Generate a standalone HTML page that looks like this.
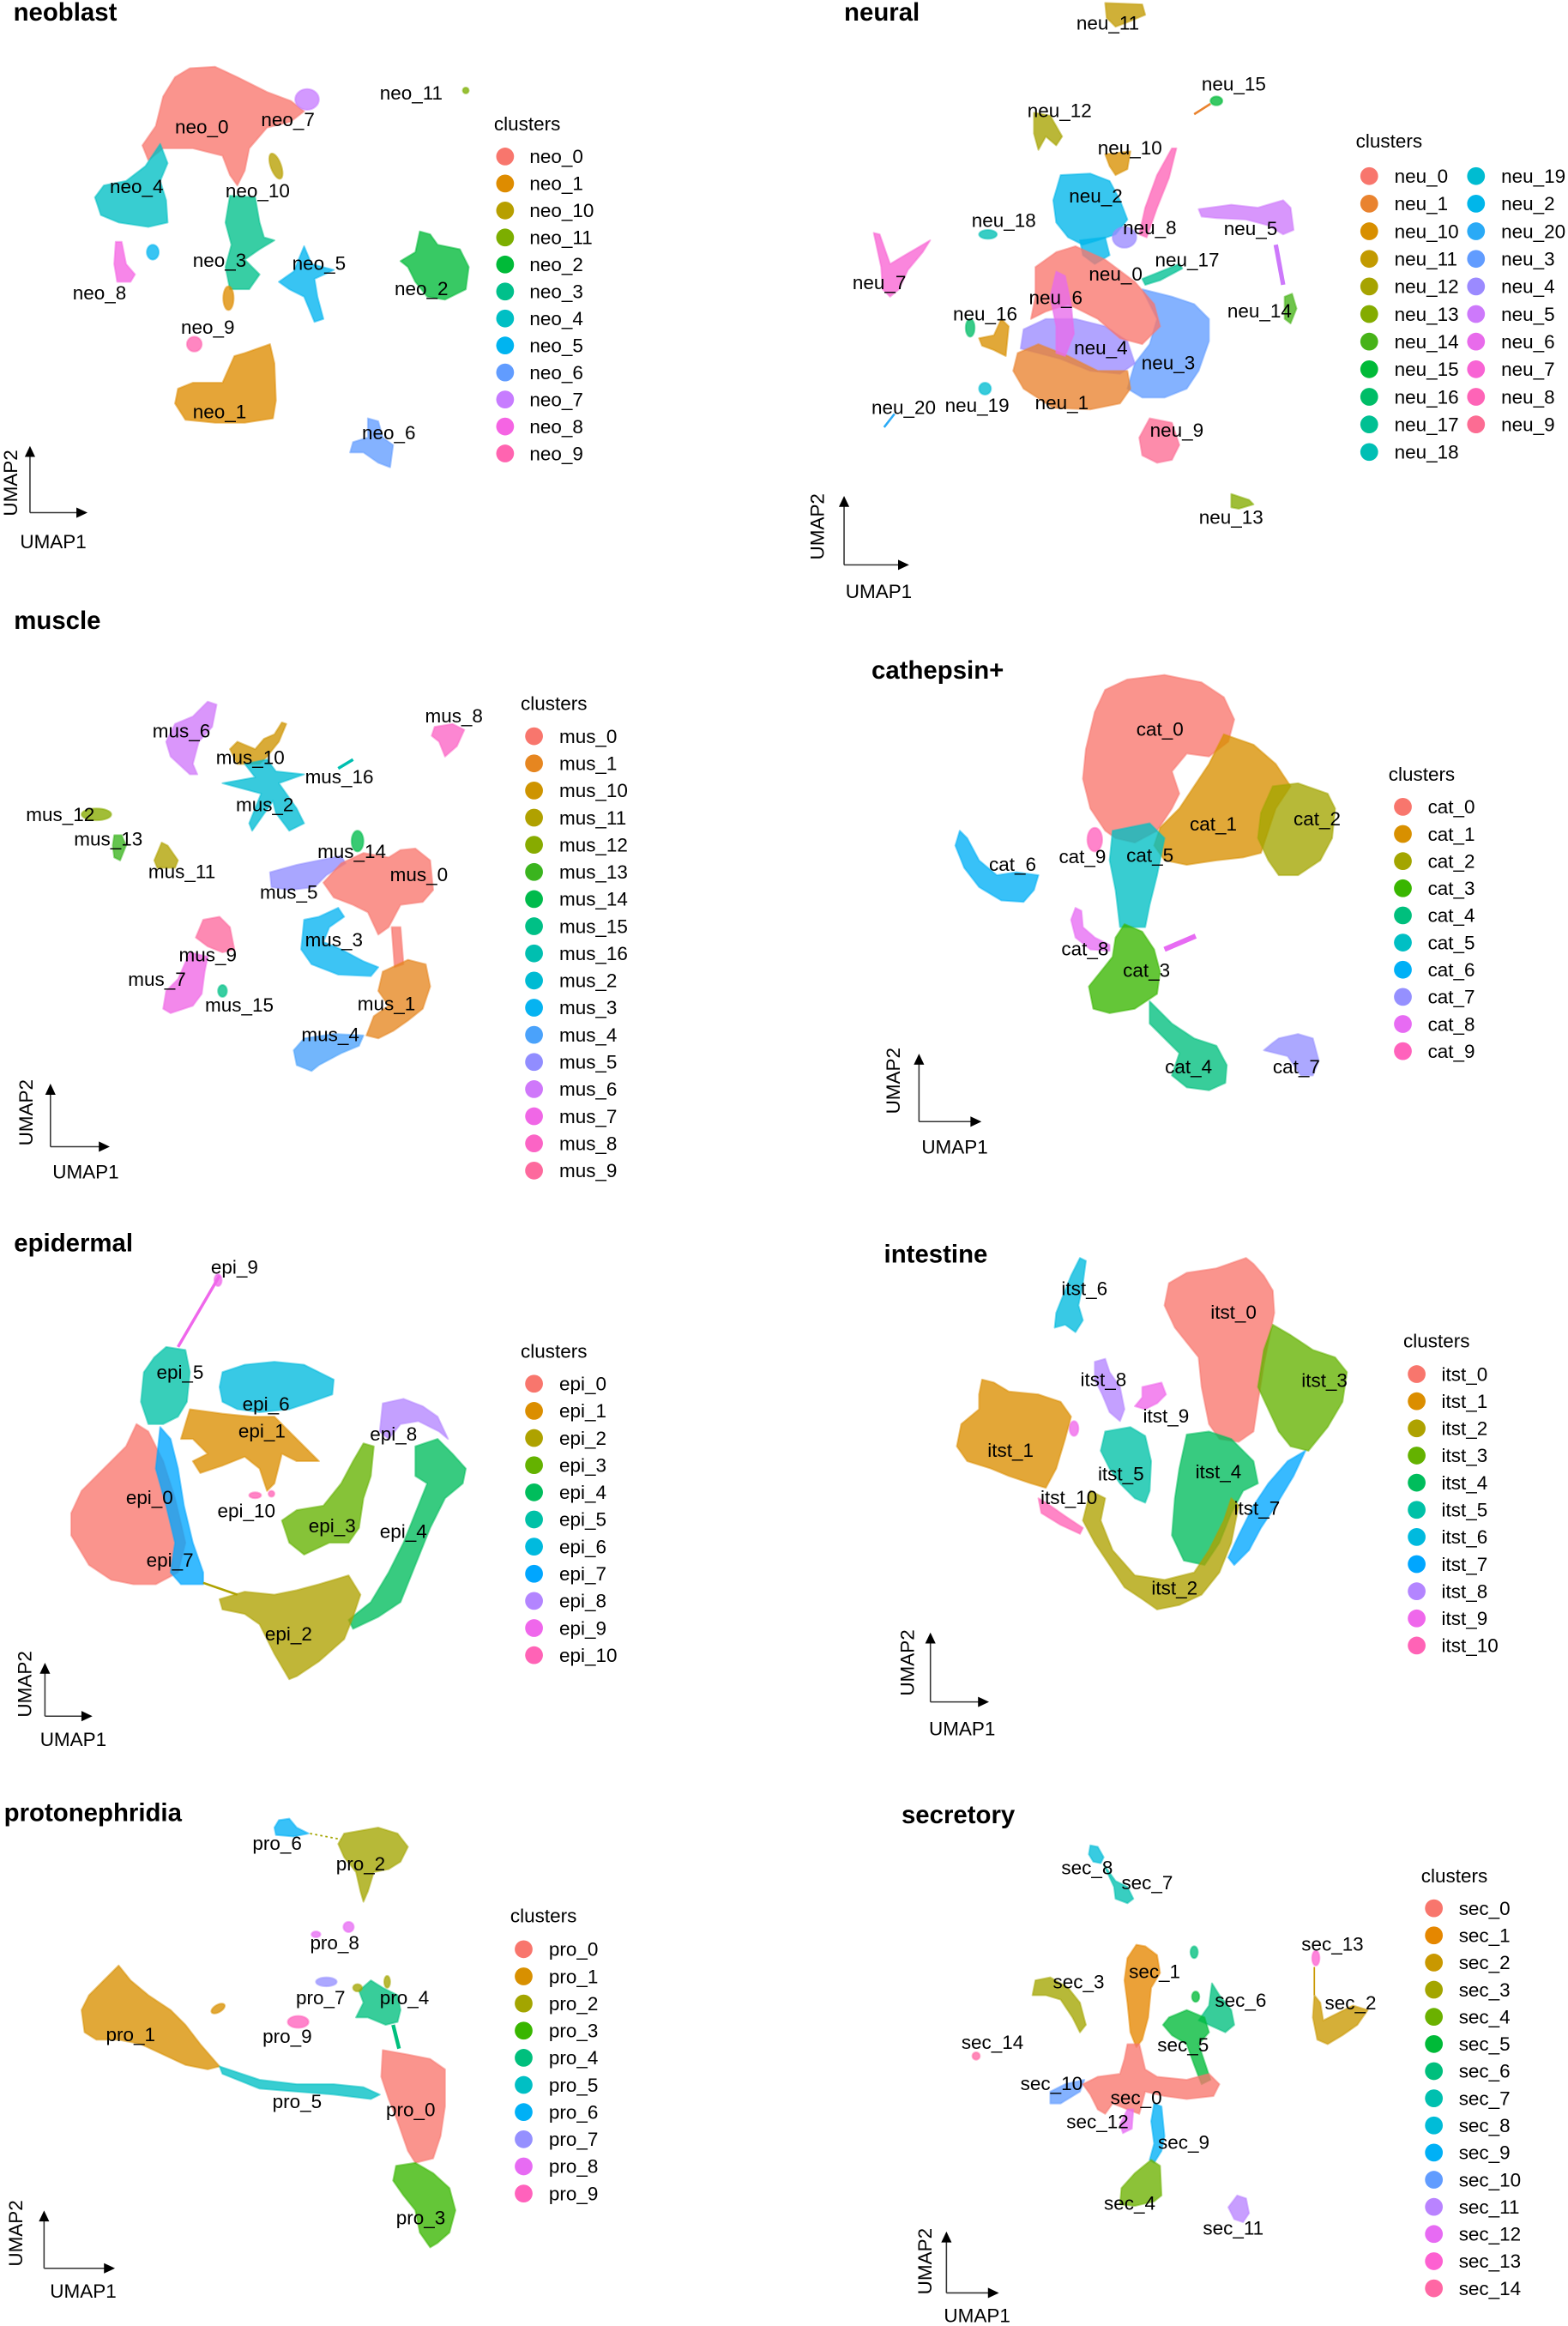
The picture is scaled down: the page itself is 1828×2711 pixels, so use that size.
<!DOCTYPE html>
<html><head><meta charset="utf-8">
<style>
html,body{margin:0;padding:0;background:#fff;}
svg{display:block;}
text{font-family:"Liberation Sans",Arial,sans-serif;fill:#000;}
.t{font-size:17px;font-weight:bold;}
.l{font-size:13px;}
.lg{font-size:13px;}
.ax{font-size:13px;}
.b polygon,.b ellipse,.b circle{fill-opacity:.78;stroke-width:1.2;stroke-opacity:.5;stroke-linejoin:round;}
.ar line{stroke:#333;stroke-width:.9;}
.ar polygon{fill:#000;}
</style></head>
<body>
<svg width="1828" height="2711" viewBox="0 0 1057 1568" preserveAspectRatio="none" xmlns="http://www.w3.org/2000/svg">
<rect width="1057" height="1568" fill="#fff"/>

<!-- ================= NEOBLAST ================= -->
<text class="t" x="9" y="14">neoblast</text>
<g class="b">
<polygon fill="#F8766D" stroke="#F8766D" points="128,46 145,45 160,52 180,62 196,68 205,75 196,82 180,86 168,100 165,115 160,125 155,118 150,105 130,100 110,100 100,108 96,98 105,85 110,65 118,52"/>
<ellipse fill="#C77CFF" stroke="#C77CFF" cx="207" cy="67" rx="8" ry="7"/>
<circle fill="#7CAE00" stroke="#7CAE00" cx="314" cy="61" r="2"/>
<ellipse fill="#B79F00" stroke="#B79F00" cx="186" cy="112" rx="3.5" ry="9" transform="rotate(-20 186 112)"/>
<polygon fill="#00BFC4" stroke="#00BFC4" points="108,97 113,110 108,122 112,135 113,150 100,153 80,150 68,145 64,133 70,125 85,122 98,112"/>
<polygon fill="#F564E3" stroke="#F564E3" points="78,163 82,163 85,178 91,185 88,190 79,190 77,178"/>
<ellipse fill="#00B4F0" stroke="#00B4F0" cx="103" cy="170" rx="4" ry="5"/>
<polygon fill="#00C08B" stroke="#00C08B" points="155,132 172,133 175,150 178,160 185,162 175,168 165,175 175,185 168,195 155,195 152,180 156,165 152,150"/>
<ellipse fill="#DE8C00" stroke="#DE8C00" cx="154" cy="201" rx="3.5" ry="8"/>
<polygon fill="#00B4F0" stroke="#00B4F0" points="205,166 210,178 225,182 212,188 214,200 218,215 212,217 205,200 195,195 188,190 198,183"/>
<polygon fill="#00BA38" stroke="#00BA38" points="283,156 290,158 295,165 310,168 316,180 314,195 300,202 288,200 280,190 275,180 270,176 280,170"/>
<ellipse fill="#FF64B0" stroke="#FF64B0" cx="131" cy="232" rx="5" ry="5"/>
<polygon fill="#DE8C00" stroke="#DE8C00" points="165,238 182,232 185,245 186,270 184,282 165,285 145,285 125,283 118,272 120,262 130,258 150,258 158,240"/>
<polygon fill="#619CFF" stroke="#619CFF" points="248,282 255,284 258,295 265,300 263,315 255,312 245,305 236,305 238,298 248,295"/>
</g>
<g class="l">
<text x="118" y="90">neo_0</text><text x="176" y="85">neo_7</text><text x="256" y="67">neo_11</text>
<text x="152" y="133">neo_10</text><text x="74" y="130">neo_4</text><text x="130" y="180">neo_3</text>
<text x="197" y="182">neo_5</text><text x="266" y="199">neo_2</text><text x="49" y="202">neo_8</text>
<text x="122" y="225">neo_9</text><text x="130" y="282">neo_1</text><text x="244" y="296">neo_6</text>
</g>
<text class="lg" x="333" y="88">clusters</text>
<g class="lg">
<circle cx="340.5" cy="105.5" r="6" fill="#F8766D"/><text x="357" y="110">neo_0</text>
<circle cx="340.5" cy="123.7" r="6" fill="#DE8C00"/><text x="357" y="128.2">neo_1</text>
<circle cx="340.5" cy="141.9" r="6" fill="#B79F00"/><text x="357" y="146.4">neo_10</text>
<circle cx="340.5" cy="160.1" r="6" fill="#7CAE00"/><text x="357" y="164.6">neo_11</text>
<circle cx="340.5" cy="178.3" r="6" fill="#00BA38"/><text x="357" y="182.8">neo_2</text>
<circle cx="340.5" cy="196.5" r="6" fill="#00C08B"/><text x="357" y="201">neo_3</text>
<circle cx="340.5" cy="214.7" r="6" fill="#00BFC4"/><text x="357" y="219.2">neo_4</text>
<circle cx="340.5" cy="232.9" r="6" fill="#00B4F0"/><text x="357" y="237.4">neo_5</text>
<circle cx="340.5" cy="251.1" r="6" fill="#619CFF"/><text x="357" y="255.6">neo_6</text>
<circle cx="340.5" cy="269.3" r="6" fill="#C77CFF"/><text x="357" y="273.8">neo_7</text>
<circle cx="340.5" cy="287.5" r="6" fill="#F564E3"/><text x="357" y="292">neo_8</text>
<circle cx="340.5" cy="305.7" r="6" fill="#FF64B0"/><text x="357" y="310.2">neo_9</text>
</g>
<g class="ar">
<line x1="20.2" y1="345.6" x2="20.2" y2="306"/><polygon points="16.7,308 20.2,300.6 23.7,308"/>
<line x1="20.2" y1="345.6" x2="53" y2="345.6"/><polygon points="51.5,342.1 59,345.6 51.5,349.1"/>
</g>
<text class="ax" text-anchor="middle" transform="translate(11.5 325.6) rotate(-90)">UMAP2</text>
<text class="ax" x="13.5" y="369.5">UMAP1</text>

<!-- ================= NEURAL ================= -->
<text class="t" x="569" y="14">neural</text>
<g class="b">
<polygon fill="#C29A00" stroke="#C29A00" points="745,2 770,3 772,10 760,15 752,18 746,12"/>
<line x1="805" y1="77" x2="816" y2="70" stroke="#E9832F" stroke-width="1.5"/>
<ellipse fill="#00BA38" stroke="#00BA38" cx="820" cy="68" rx="4" ry="3"/>
<polygon fill="#A6A300" stroke="#A6A300" points="697,76 708,78 716,92 712,98 705,92 700,101 697,90"/>
<polygon fill="#D88F00" stroke="#D88F00" points="745,104 762,102 760,114 752,118 748,112"/>
<polygon fill="#00B6EA" stroke="#00B6EA" points="715,118 735,117 748,122 755,135 760,148 752,158 740,162 730,165 720,160 712,150 710,135"/>
<polygon fill="#00B6EA" stroke="#00B6EA" fill-opacity=".45" points="728,162 745,160 748,172 738,178 730,172"/>
<polygon fill="#FE64B7" stroke="#FE64B7" points="793,100 788,120 780,140 773,160 768,158 772,140 780,118 790,100"/>
<ellipse fill="#9B8AFF" stroke="#9B8AFF" cx="758" cy="160" rx="8" ry="7"/>
<ellipse fill="#00BFB4" stroke="#00BFB4" cx="666" cy="158" rx="6" ry="3"/>
<polygon fill="#F864D4" stroke="#F864D4" points="589,157 593,158 600,178 610,172 622,165 627,162 622,170 612,182 606,195 600,200 595,195 594,180"/>
<polygon fill="#CD79FB" stroke="#CD79FB" points="808,141 830,138 848,140 865,135 870,140 872,155 865,158 855,152 840,148 820,147 810,146"/>
<line x1="860" y1="165" x2="865" y2="192" stroke="#CD79FB" stroke-width="3"/>
<polygon fill="#47B318" stroke="#47B318" points="866,200 871,198 874,208 870,218 866,215"/>
<polygon fill="#00C093" stroke="#00C093" points="770,188 780,184 795,178 797,181 782,189 772,192"/>
<polygon fill="#619CFF" stroke="#619CFF" points="770,195 790,200 805,205 815,215 815,230 808,250 800,262 785,268 770,268 760,262 765,245 775,232 780,215"/>
<polygon fill="#9B8AFF" stroke="#9B8AFF" points="690,222 705,215 725,215 745,220 760,230 765,245 755,252 735,250 715,242 700,238 688,235"/>
<polygon fill="#E9832F" stroke="#E9832F" points="686,238 700,232 720,240 740,250 760,250 762,262 755,272 735,276 710,275 690,262 683,250"/>
<polygon fill="#F8766D" stroke="#F8766D" points="698,180 712,170 725,166 745,175 765,190 778,205 782,220 770,232 755,228 740,215 720,205 705,210 695,215 698,200"/>
<polygon fill="#E86BEB" stroke="#E86BEB" points="712,183 718,186 722,205 724,225 718,240 712,238 712,220 708,200"/>
<ellipse fill="#00BD67" stroke="#00BD67" cx="654" cy="221" rx="3" ry="6"/>
<polygon fill="#D88F00" stroke="#D88F00" points="660,228 670,226 675,215 680,220 678,240 670,236 662,233"/>
<ellipse fill="#00BCD1" stroke="#00BCD1" cx="664" cy="262" rx="4" ry="4"/>
<line x1="596" y1="288" x2="603" y2="279" stroke="#2AAAF6" stroke-width="1.5"/>
<polygon fill="#FC6C93" stroke="#FC6C93" points="775,282 790,285 795,300 790,310 780,312 770,307 768,295"/>
<polygon fill="#84AC00" stroke="#84AC00" points="830,333 842,337 845,340 835,343 830,342"/>
</g>
<g class="l">
<text x="725.6" y="20">neu_11</text><text x="810" y="61">neu_15</text><text x="692.6" y="79">neu_12</text>
<text x="740" y="104">neu_10</text><text x="720.6" y="136.5">neu_2</text><text x="655" y="153">neu_18</text>
<text x="757" y="158">neu_8</text><text x="825" y="158.5">neu_5</text><text x="574.7" y="195">neu_7</text>
<text x="778.6" y="179.5">neu_17</text><text x="734" y="189">neu_0</text><text x="693.6" y="205">neu_6</text>
<text x="827.4" y="214">neu_14</text><text x="642.4" y="216">neu_16</text><text x="724" y="239">neu_4</text>
<text x="769.5" y="249">neu_3</text><text x="587.5" y="279">neu_20</text><text x="637" y="277.5">neu_19</text>
<text x="697.7" y="276">neu_1</text><text x="775.2" y="294.5">neu_9</text><text x="808.2" y="353">neu_13</text>
</g>
<text class="lg" x="914" y="99.5">clusters</text>
<g class="lg">
<circle cx="923" cy="118.7" r="6" fill="#F8766D"/><text x="940" y="123.2">neu_0</text>
<circle cx="923" cy="137.3" r="6" fill="#E9832F"/><text x="940" y="141.8">neu_1</text>
<circle cx="923" cy="155.9" r="6" fill="#D88F00"/><text x="940" y="160.4">neu_10</text>
<circle cx="923" cy="174.5" r="6" fill="#C29A00"/><text x="940" y="179">neu_11</text>
<circle cx="923" cy="193.1" r="6" fill="#A6A300"/><text x="940" y="197.6">neu_12</text>
<circle cx="923" cy="211.7" r="6" fill="#84AC00"/><text x="940" y="216.2">neu_13</text>
<circle cx="923" cy="230.3" r="6" fill="#47B318"/><text x="940" y="234.8">neu_14</text>
<circle cx="923" cy="248.9" r="6" fill="#00BA38"/><text x="940" y="253.4">neu_15</text>
<circle cx="923" cy="267.5" r="6" fill="#00BD67"/><text x="940" y="272">neu_16</text>
<circle cx="923" cy="286.1" r="6" fill="#00C093"/><text x="940" y="290.6">neu_17</text>
<circle cx="923" cy="304.7" r="6" fill="#00BFB4"/><text x="940" y="309.2">neu_18</text>
<circle cx="995" cy="118.7" r="6" fill="#00BCD1"/><text x="1012" y="123.2">neu_19</text>
<circle cx="995" cy="137.3" r="6" fill="#00B6EA"/><text x="1012" y="141.8">neu_2</text>
<circle cx="995" cy="155.9" r="6" fill="#2AAAF6"/><text x="1012" y="160.4">neu_20</text>
<circle cx="995" cy="174.5" r="6" fill="#619CFF"/><text x="1012" y="179">neu_3</text>
<circle cx="995" cy="193.1" r="6" fill="#9B8AFF"/><text x="1012" y="197.6">neu_4</text>
<circle cx="995" cy="211.7" r="6" fill="#CD79FB"/><text x="1012" y="216.2">neu_5</text>
<circle cx="995" cy="230.3" r="6" fill="#E86BEB"/><text x="1012" y="234.8">neu_6</text>
<circle cx="995" cy="248.9" r="6" fill="#F864D4"/><text x="1012" y="253.4">neu_7</text>
<circle cx="995" cy="267.5" r="6" fill="#FE64B7"/><text x="1012" y="272">neu_8</text>
<circle cx="995" cy="286.1" r="6" fill="#FC6C93"/><text x="1012" y="290.6">neu_9</text>
</g>
<g class="ar">
<line x1="569" y1="380.8" x2="569" y2="340"/><polygon points="565.5,341.7 569,334.3 572.5,341.7"/>
<line x1="569" y1="380.8" x2="607" y2="380.8"/><polygon points="605.4,377.3 612.8,380.8 605.4,384.3"/>
</g>
<text class="ax" text-anchor="middle" transform="translate(555.5 355) rotate(-90)">UMAP2</text>
<text class="ax" x="570" y="403">UMAP1</text>

<!-- ================= MUSCLE ================= -->
<text class="t" x="9.4" y="424">muscle</text>
<g class="b">
<polygon fill="#CF78FA" stroke="#CF78FA" points="140,473 146,475 143,490 134,500 130,515 133,522 128,522 115,510 112,500 118,488 130,483"/>
<polygon fill="#CE9400" stroke="#CE9400" points="190,487 193,488 188,500 180,510 175,515 160,515 155,505 160,500 172,505 178,498 185,495"/>
<polygon fill="#00BBD3" stroke="#00BBD3" points="180,512 186,520 205,522 188,528 200,545 205,555 195,560 186,548 184,540 170,560 168,555 176,535 150,528 172,524 165,515"/>
<line x1="228" y1="518" x2="238" y2="512" stroke="#00BFB0" stroke-width="2"/>
<polygon fill="#FB64C5" stroke="#FB64C5" points="293,490 305,488 313,492 308,503 300,510 296,500 291,496"/>
<ellipse fill="#87AB00" stroke="#87AB00" cx="65" cy="549" rx="10" ry="4"/>
<polygon fill="#3AB41E" stroke="#3AB41E" points="77,563 82,563 85,570 81,580 77,578 76,570"/>
<polygon fill="#B0A100" stroke="#B0A100" points="109,568 113,570 120,580 118,585 106,585 104,580"/>
<ellipse fill="#00BB4C" stroke="#00BB4C" cx="241" cy="567" rx="4" ry="7"/>
<polygon fill="#918DFF" stroke="#918DFF" points="182,588 200,583 215,580 230,577 233,582 220,590 212,598 195,600 183,598"/>
<polygon fill="#F8766D" stroke="#F8766D" points="230,582 245,575 262,578 270,573 280,572 290,580 292,600 285,608 270,610 262,625 255,630 248,615 238,610 225,605 218,595"/>
<polygon fill="#F8766D" stroke="#F8766D" fill-opacity=".45" points="264,625 270,625 272,650 266,652"/>
<polygon fill="#06B3F1" stroke="#06B3F1" points="205,620 215,618 228,612 232,618 222,625 218,635 230,640 245,648 255,652 250,658 228,657 210,650 203,640"/>
<polygon fill="#E68620" stroke="#E68620" points="258,655 275,647 287,650 290,665 285,680 275,688 265,695 255,700 247,698 252,685 262,678 255,668"/>
<polygon fill="#4AA2FB" stroke="#4AA2FB" points="205,700 225,697 245,698 242,705 230,710 215,718 210,722 200,718 198,708"/>
<polygon fill="#FD699D" stroke="#FD699D" points="137,620 148,618 155,625 158,640 150,642 140,638 132,632"/>
<polygon fill="#F067E6" stroke="#F067E6" points="128,642 140,645 138,655 136,670 130,678 115,683 110,680 112,668 120,660"/>
<ellipse fill="#00C086" stroke="#00C086" cx="150" cy="668" rx="3" ry="4"/>
</g>
<g class="l">
<text x="102.8" y="497">mus_6</text><text x="145.6" y="515">mus_10</text><text x="205.6" y="528">mus_16</text>
<text x="159" y="547">mus_2</text><text x="286.5" y="487">mus_8</text><text x="17.5" y="553.5">mus_12</text>
<text x="49.9" y="570">mus_13</text><text x="100" y="592">mus_11</text><text x="214" y="578.5">mus_14</text>
<text x="262.9" y="594">mus_0</text><text x="175.2" y="606">mus_5</text><text x="205.6" y="638">mus_3</text>
<text x="120.6" y="648">mus_9</text><text x="86.3" y="664.5">mus_7</text><text x="138.2" y="682">mus_15</text>
<text x="241" y="681">mus_1</text><text x="203.2" y="702">mus_4</text>
</g>
<text class="lg" x="351" y="478.5">clusters</text>
<g class="lg">
<circle cx="360" cy="496.3" r="6" fill="#F8766D"/><text x="377" y="500.8">mus_0</text>
<circle cx="360" cy="514.6" r="6" fill="#E68620"/><text x="377" y="519.1">mus_1</text>
<circle cx="360" cy="532.9" r="6" fill="#CE9400"/><text x="377" y="537.4">mus_10</text>
<circle cx="360" cy="551.2" r="6" fill="#B0A100"/><text x="377" y="555.7">mus_11</text>
<circle cx="360" cy="569.5" r="6" fill="#87AB00"/><text x="377" y="574">mus_12</text>
<circle cx="360" cy="587.8" r="6" fill="#3AB41E"/><text x="377" y="592.3">mus_13</text>
<circle cx="360" cy="606.1" r="6" fill="#00BB4C"/><text x="377" y="610.6">mus_14</text>
<circle cx="360" cy="624.4" r="6" fill="#00C086"/><text x="377" y="628.9">mus_15</text>
<circle cx="360" cy="642.7" r="6" fill="#00BFB0"/><text x="377" y="647.2">mus_16</text>
<circle cx="360" cy="661" r="6" fill="#00BBD3"/><text x="377" y="665.5">mus_2</text>
<circle cx="360" cy="679.3" r="6" fill="#06B3F1"/><text x="377" y="683.8">mus_3</text>
<circle cx="360" cy="697.6" r="6" fill="#4AA2FB"/><text x="377" y="702.1">mus_4</text>
<circle cx="360" cy="715.9" r="6" fill="#918DFF"/><text x="377" y="720.4">mus_5</text>
<circle cx="360" cy="734.2" r="6" fill="#CF78FA"/><text x="377" y="738.7">mus_6</text>
<circle cx="360" cy="752.5" r="6" fill="#F067E6"/><text x="377" y="757">mus_7</text>
<circle cx="360" cy="770.8" r="6" fill="#FB64C5"/><text x="377" y="775.3">mus_8</text>
<circle cx="360" cy="789.1" r="6" fill="#FD699D"/><text x="377" y="793.6">mus_9</text>
</g>
<g class="ar">
<line x1="34" y1="773" x2="34" y2="736"/><polygon points="30.5,738 34,730.5 37.5,738"/>
<line x1="34" y1="773" x2="68" y2="773"/><polygon points="66.6,769.5 74,773 66.6,776.5"/>
</g>
<text class="ax" text-anchor="middle" transform="translate(22 750) rotate(-90)">UMAP2</text>
<text class="ax" x="35.4" y="794.4">UMAP1</text>

<!-- ================= CATHEPSIN ================= -->
<text class="t" x="587.5" y="457.5">cathepsin+</text>
<g class="b">
<polygon fill="#F8766D" stroke="#F8766D" points="760,458 785,455 810,460 825,470 832,485 828,500 815,510 800,508 790,520 795,535 790,545 780,560 765,568 752,565 745,560 735,545 730,525 732,505 738,480 745,465"/>
<polygon fill="#D89000" stroke="#D89000" points="825,495 845,502 860,515 870,530 860,545 855,560 850,575 838,578 820,580 800,583 785,580 778,570 782,558 795,545 805,530 815,515 820,505"/>
<polygon fill="#A3A500" stroke="#A3A500" points="858,530 875,528 895,535 900,545 898,565 890,580 875,590 862,590 855,580 848,565 850,548"/>
<polygon fill="#00BFC4" stroke="#00BFC4" points="750,560 775,555 785,565 780,590 775,610 772,625 755,625 752,600 748,580"/>
<ellipse fill="#FF62BC" stroke="#FF62BC" cx="738" cy="566" rx="5" ry="8"/>
<polygon fill="#00B0F6" stroke="#00B0F6" points="647,560 652,565 660,580 672,590 685,588 700,590 697,600 690,608 675,607 660,598 650,585 644,570"/>
<polygon fill="#E76BF3" stroke="#E76BF3" points="725,612 729,614 730,625 738,632 748,637 748,641 735,640 725,632 722,620"/>
<line x1="785" y1="640" x2="806" y2="631" stroke="#E76BF3" stroke-width="3.5"/>
<polygon fill="#39B600" stroke="#39B600" points="758,623 770,628 778,640 782,655 780,670 765,680 748,683 737,680 734,665 742,655 750,645 752,632"/>
<polygon fill="#00BF7D" stroke="#00BF7D" points="775,675 790,690 805,700 820,705 827,718 826,730 815,735 800,733 790,725 795,710 785,700 775,690"/>
<polygon fill="#9590FF" stroke="#9590FF" points="862,700 875,697 885,700 889,715 885,725 877,725 868,712 852,708 858,703"/>
</g>
<g class="l">
<text x="766" y="496">cat_0</text><text x="802" y="560">cat_1</text><text x="872" y="556.5">cat_2</text>
<text x="759.3" y="581">cat_5</text><text x="713.8" y="582">cat_9</text><text x="666.7" y="587">cat_6</text>
<text x="715.5" y="644">cat_8</text><text x="757" y="658.5">cat_3</text><text x="785.3" y="723.5">cat_4</text>
<text x="858" y="723.5">cat_7</text>
</g>
<text class="lg" x="936" y="526.2">clusters</text>
<g class="lg">
<circle cx="945.7" cy="543.9" r="6" fill="#F8766D"/><text x="962.5" y="548.4">cat_0</text>
<circle cx="945.7" cy="562.2" r="6" fill="#D89000"/><text x="962.5" y="566.7">cat_1</text>
<circle cx="945.7" cy="580.5" r="6" fill="#A3A500"/><text x="962.5" y="585">cat_2</text>
<circle cx="945.7" cy="598.8" r="6" fill="#39B600"/><text x="962.5" y="603.3">cat_3</text>
<circle cx="945.7" cy="617.1" r="6" fill="#00BF7D"/><text x="962.5" y="621.6">cat_4</text>
<circle cx="945.7" cy="635.4" r="6" fill="#00BFC4"/><text x="962.5" y="639.9">cat_5</text>
<circle cx="945.7" cy="653.7" r="6" fill="#00B0F6"/><text x="962.5" y="658.2">cat_6</text>
<circle cx="945.7" cy="672" r="6" fill="#9590FF"/><text x="962.5" y="676.5">cat_7</text>
<circle cx="945.7" cy="690.3" r="6" fill="#E76BF3"/><text x="962.5" y="694.8">cat_8</text>
<circle cx="945.7" cy="708.6" r="6" fill="#FF62BC"/><text x="962.5" y="713.1">cat_9</text>
</g>
<g class="ar">
<line x1="619.5" y1="756.1" x2="619.5" y2="716"/><polygon points="616,717.7 619.5,710.3 623,717.7"/>
<line x1="619.5" y1="756.1" x2="656" y2="756.1"/><polygon points="654.2,752.6 661.6,756.1 654.2,759.6"/>
</g>
<text class="ax" text-anchor="middle" transform="translate(606.7 728.6) rotate(-90)">UMAP2</text>
<text class="ax" x="621.2" y="777.7">UMAP1</text>

<!-- ================= EPIDERMAL ================= -->
<text class="t" x="9.4" y="843.6">epidermal</text>
<g class="b">
<line x1="148" y1="860" x2="120" y2="908" stroke="#EF67EB" stroke-width="2"/>
<ellipse fill="#EF67EB" stroke="#EF67EB" cx="147" cy="863" rx="2.5" ry="4"/>
<polygon fill="#00C1A7" stroke="#00C1A7" points="112,908 125,910 128,925 126,945 120,955 110,960 100,960 95,945 97,925 104,915"/>
<polygon fill="#00BADE" stroke="#00BADE" points="150,925 165,920 185,918 205,920 215,925 225,930 224,940 210,945 195,950 175,952 160,950 150,945 148,935"/>
<polygon fill="#DB8E00" stroke="#DB8E00" points="128,950 150,953 170,955 185,955 195,965 205,975 215,985 200,985 190,980 185,1000 180,1005 175,990 165,982 150,988 135,993 130,985 140,980 130,970 122,970"/>
<polygon fill="#F8766D" stroke="#F8766D" points="92,960 100,965 110,985 118,1010 125,1040 120,1060 105,1068 90,1068 75,1065 60,1055 48,1035 48,1020 55,1005 70,990 85,975"/>
<polygon fill="#00A6FF" stroke="#00A6FF" points="108,962 115,970 120,990 124,1015 130,1040 137,1060 137,1068 122,1068 115,1060 118,1040 112,1015 105,990"/>
<ellipse fill="#FF63B6" stroke="#FF63B6" cx="172" cy="1008" rx="4" ry="2"/>
<circle fill="#FF63B6" stroke="#FF63B6" cx="183" cy="1007" r="2"/>
<polygon fill="#64B200" stroke="#64B200" points="245,973 252,975 250,995 245,1010 242,1030 235,1040 222,1040 205,1048 195,1040 190,1025 200,1018 218,1015 230,1000 238,985"/>
<polygon fill="#B385FF" stroke="#B385FF" points="258,946 272,943 285,948 295,955 302,970 296,965 282,958 270,960 262,970 256,965"/>
<polygon fill="#00BD5C" stroke="#00BD5C" points="280,975 295,970 305,980 314,990 312,1000 300,1010 290,1030 280,1055 270,1080 255,1090 238,1098 235,1092 250,1080 262,1060 272,1040 280,1020 288,1000 280,995"/>
<line x1="137" y1="1067" x2="160" y2="1075" stroke="#AEA200" stroke-width="1.5"/>
<polygon fill="#AEA200" stroke="#AEA200" points="148,1078 165,1073 185,1075 200,1072 215,1068 235,1062 243,1075 238,1090 232,1105 215,1120 200,1130 195,1132 185,1115 175,1095 165,1088 150,1085"/>
</g>
<g class="l">
<text x="142.2" y="858.6">epi_9</text><text x="105.5" y="929.6">epi_5</text><text x="163.4" y="951">epi_6</text>
<text x="160.7" y="969">epi_1</text><text x="249.4" y="971">epi_8</text><text x="84.9" y="1014">epi_0</text>
<text x="146.6" y="1023">epi_10</text><text x="208" y="1033">epi_3</text><text x="256" y="1036.7">epi_4</text>
<text x="98.7" y="1056">epi_7</text><text x="178.6" y="1106">epi_2</text>
</g>
<text class="lg" x="351" y="915.2">clusters</text>
<g class="lg">
<circle cx="360" cy="932.8" r="6" fill="#F8766D"/><text x="377" y="937.3">epi_0</text>
<circle cx="360" cy="951.1" r="6" fill="#DB8E00"/><text x="377" y="955.6">epi_1</text>
<circle cx="360" cy="969.4" r="6" fill="#AEA200"/><text x="377" y="973.9">epi_2</text>
<circle cx="360" cy="987.7" r="6" fill="#64B200"/><text x="377" y="992.2">epi_3</text>
<circle cx="360" cy="1006" r="6" fill="#00BD5C"/><text x="377" y="1010.5">epi_4</text>
<circle cx="360" cy="1024.3" r="6" fill="#00C1A7"/><text x="377" y="1028.8">epi_5</text>
<circle cx="360" cy="1042.6" r="6" fill="#00BADE"/><text x="377" y="1047.1">epi_6</text>
<circle cx="360" cy="1060.9" r="6" fill="#00A6FF"/><text x="377" y="1065.4">epi_7</text>
<circle cx="360" cy="1079.2" r="6" fill="#B385FF"/><text x="377" y="1083.7">epi_8</text>
<circle cx="360" cy="1097.5" r="6" fill="#EF67EB"/><text x="377" y="1102">epi_9</text>
<circle cx="360" cy="1115.8" r="6" fill="#FF63B6"/><text x="377" y="1120.3">epi_10</text>
</g>
<g class="ar">
<line x1="30.3" y1="1156.9" x2="30.3" y2="1126"/><polygon points="26.8,1128.3 30.3,1120.9 33.8,1128.3"/>
<line x1="30.3" y1="1156.9" x2="57" y2="1156.9"/><polygon points="54.9,1153.4 62.3,1156.9 54.9,1160.4"/>
</g>
<text class="ax" text-anchor="middle" transform="translate(21 1135.3) rotate(-90)">UMAP2</text>
<text class="ax" x="27" y="1177">UMAP1</text>

<!-- ================= INTESTINE ================= -->
<text class="t" x="595.9" y="851">intestine</text>
<g class="b">
<polygon fill="#00BADE" stroke="#00BADE" points="728,848 732,850 730,865 727,880 730,890 725,898 718,893 711,895 712,885 718,870 722,860"/>
<polygon fill="#F8766D" stroke="#F8766D" points="840,848 845,852 852,860 858,870 859,885 856,900 852,920 848,945 845,965 835,972 822,970 815,960 810,935 808,915 800,905 792,895 785,880 788,865 800,858 820,855"/>
<polygon fill="#64B200" stroke="#64B200" points="858,893 870,900 885,910 900,915 908,925 905,945 895,962 882,978 870,975 862,965 855,950 848,935 852,910"/>
<polygon fill="#B385FF" stroke="#B385FF" points="738,918 745,916 748,925 755,935 758,950 755,958 748,952 743,940 738,930"/>
<polygon fill="#EF67EB" stroke="#EF67EB" points="770,935 783,932 786,940 780,946 772,950 765,948 770,942"/>
<ellipse fill="#EF67EB" stroke="#EF67EB" cx="724" cy="963" rx="3" ry="5"/>
<polygon fill="#DB8E00" stroke="#DB8E00" points="662,930 670,932 680,938 700,940 715,945 722,955 718,970 712,990 705,1003 695,1000 680,995 668,990 652,985 645,975 648,960 660,950 660,940"/>
<polygon fill="#00C1A7" stroke="#00C1A7" points="745,965 762,962 772,968 776,985 775,1005 772,1013 765,1010 755,1000 748,990 742,978"/>
<polygon fill="#00BD5C" stroke="#00BD5C" points="800,967 815,965 830,970 845,985 848,1000 838,1005 830,1020 822,1040 812,1055 798,1052 790,1035 792,1010 795,990"/>
<polygon fill="#00A6FF" stroke="#00A6FF" points="880,978 872,995 860,1015 850,1030 842,1045 832,1055 828,1050 835,1035 845,1015 855,1000 868,985"/>
<polygon fill="#FF63B6" stroke="#FF63B6" points="700,1010 708,1015 718,1022 730,1030 728,1034 715,1028 702,1020"/>
<polygon fill="#AEA200" stroke="#AEA200" points="735,1005 745,1010 742,1025 750,1045 765,1062 785,1065 805,1060 815,1045 825,1025 830,1010 835,1015 830,1040 822,1060 810,1075 795,1082 780,1085 770,1078 758,1070 748,1055 738,1040 730,1025"/>
</g>
<g class="l">
<text x="715.5" y="873">itst_6</text><text x="816" y="889">itst_0</text><text x="877.3" y="935">itst_3</text>
<text x="728.3" y="934.5">itst_8</text><text x="770.5" y="959">itst_9</text><text x="665.7" y="982">itst_1</text>
<text x="740.1" y="998">itst_5</text><text x="805.8" y="996.5">itst_4</text><text x="701.4" y="1014">itst_10</text>
<text x="831.8" y="1021">itst_7</text><text x="776.2" y="1075">itst_2</text>
</g>
<text class="lg" x="946" y="908.5">clusters</text>
<g class="lg">
<circle cx="955" cy="926.3" r="6" fill="#F8766D"/><text x="971.7" y="930.8">itst_0</text>
<circle cx="955" cy="944.6" r="6" fill="#DB8E00"/><text x="971.7" y="949.1">itst_1</text>
<circle cx="955" cy="962.9" r="6" fill="#AEA200"/><text x="971.7" y="967.4">itst_2</text>
<circle cx="955" cy="981.2" r="6" fill="#64B200"/><text x="971.7" y="985.7">itst_3</text>
<circle cx="955" cy="999.5" r="6" fill="#00BD5C"/><text x="971.7" y="1004">itst_4</text>
<circle cx="955" cy="1017.8" r="6" fill="#00C1A7"/><text x="971.7" y="1022.3">itst_5</text>
<circle cx="955" cy="1036.1" r="6" fill="#00BADE"/><text x="971.7" y="1040.6">itst_6</text>
<circle cx="955" cy="1054.4" r="6" fill="#00A6FF"/><text x="971.7" y="1058.9">itst_7</text>
<circle cx="955" cy="1072.7" r="6" fill="#B385FF"/><text x="971.7" y="1077.2">itst_8</text>
<circle cx="955" cy="1091" r="6" fill="#EF67EB"/><text x="971.7" y="1095.5">itst_9</text>
<circle cx="955" cy="1109.3" r="6" fill="#FF63B6"/><text x="971.7" y="1113.8">itst_10</text>
</g>
<g class="ar">
<line x1="627.2" y1="1147.3" x2="627.2" y2="1106"/><polygon points="623.7,1107.9 627.2,1100.5 630.7,1107.9"/>
<line x1="627.2" y1="1147.3" x2="661" y2="1147.3"/><polygon points="659.3,1143.8 666.7,1147.3 659.3,1150.8"/>
</g>
<text class="ax" text-anchor="middle" transform="translate(616 1120.9) rotate(-90)">UMAP2</text>
<text class="ax" x="626.2" y="1169.8">UMAP1</text>

<!-- ================= PROTONEPHRIDIA ================= -->
<text class="t" x="2.7" y="1227.5">protonephridia</text>
<g class="b">
<polygon fill="#00B0F6" stroke="#00B0F6" points="188,1227 195,1226 200,1232 208,1236 198,1238 186,1237 185,1232"/>
<line x1="209" y1="1236" x2="230" y2="1240" stroke="#A3A500" stroke-width="1" stroke-dasharray="1.5 2"/>
<polygon fill="#A3A500" stroke="#A3A500" points="232,1236 255,1232 268,1236 275,1245 270,1255 262,1260 252,1262 248,1275 245,1282 243,1275 240,1262 232,1252 228,1243"/>
<ellipse fill="#E76BF3" stroke="#E76BF3" cx="213" cy="1304" rx="3" ry="2"/>
<ellipse fill="#E76BF3" stroke="#E76BF3" cx="235" cy="1299" rx="3.5" ry="3.5"/>
<ellipse fill="#9590FF" stroke="#9590FF" cx="220" cy="1336" rx="7" ry="3"/>
<polygon fill="#00BF7D" stroke="#00BF7D" points="250,1335 258,1340 268,1345 270,1355 268,1363 260,1365 248,1360 240,1360 245,1350 242,1342"/>
<line x1="265" y1="1365" x2="269" y2="1381" stroke="#00BF7D" stroke-width="2.5"/>
<ellipse fill="#A3A500" stroke="#A3A500" cx="241" cy="1340" rx="3" ry="2.5"/>
<ellipse fill="#A3A500" stroke="#A3A500" cx="261" cy="1336" rx="2" ry="4"/>
<ellipse fill="#FF62BC" stroke="#FF62BC" cx="201" cy="1363" rx="7" ry="4"/>
<polygon fill="#D89000" stroke="#D89000" fill-opacity=".55" stroke-width="3" points="80,1325 88,1335 100,1345 115,1355 125,1365 135,1378 148,1393 140,1395 125,1392 110,1385 95,1378 80,1375 65,1375 57,1370 55,1355 60,1345 70,1335"/>
<ellipse fill="#D89000" stroke="#D89000" cx="147" cy="1354" rx="5" ry="2.5" transform="rotate(-30 147 1354)"/>
<polygon fill="#00BFC4" stroke="#00BFC4" points="148,1393 175,1402 200,1405 225,1405 245,1407 256,1412 250,1415 225,1412 200,1410 175,1408 150,1398"/>
<polygon fill="#F8766D" stroke="#F8766D" points="258,1382 275,1385 290,1388 300,1395 300,1420 297,1440 292,1455 280,1458 275,1450 268,1430 262,1415 257,1400"/>
<polygon fill="#39B600" stroke="#39B600" points="267,1460 280,1458 292,1465 303,1475 307,1490 303,1505 295,1512 290,1515 283,1505 280,1490 272,1480 265,1470"/>
</g>
<g class="l">
<text x="170.2" y="1247">pro_6</text><text x="226.5" y="1261">pro_2</text><text x="209" y="1314">pro_8</text>
<text x="199.5" y="1351">pro_7</text><text x="256" y="1351">pro_4</text><text x="177" y="1377">pro_9</text>
<text x="71.4" y="1376">pro_1</text><text x="183.7" y="1421">pro_5</text><text x="260.2" y="1426.5">pro_0</text>
<text x="267" y="1499.4">pro_3</text>
</g>
<text class="lg" x="344" y="1296">clusters</text>
<g class="lg">
<circle cx="353" cy="1314" r="6" fill="#F8766D"/><text x="370" y="1318.5">pro_0</text>
<circle cx="353" cy="1332.3" r="6" fill="#D89000"/><text x="370" y="1336.8">pro_1</text>
<circle cx="353" cy="1350.6" r="6" fill="#A3A500"/><text x="370" y="1355.1">pro_2</text>
<circle cx="353" cy="1368.9" r="6" fill="#39B600"/><text x="370" y="1373.4">pro_3</text>
<circle cx="353" cy="1387.2" r="6" fill="#00BF7D"/><text x="370" y="1391.7">pro_4</text>
<circle cx="353" cy="1405.5" r="6" fill="#00BFC4"/><text x="370" y="1410">pro_5</text>
<circle cx="353" cy="1423.8" r="6" fill="#00B0F6"/><text x="370" y="1428.3">pro_6</text>
<circle cx="353" cy="1442.1" r="6" fill="#9590FF"/><text x="370" y="1446.6">pro_7</text>
<circle cx="353" cy="1460.4" r="6" fill="#E76BF3"/><text x="370" y="1464.9">pro_8</text>
<circle cx="353" cy="1478.7" r="6" fill="#FF62BC"/><text x="370" y="1483.2">pro_9</text>
</g>
<g class="ar">
<line x1="29.7" y1="1529.1" x2="29.7" y2="1496"/><polygon points="26.2,1497.5 29.7,1490.1 33.2,1497.5"/>
<line x1="29.7" y1="1529.1" x2="72" y2="1529.1"/><polygon points="70.1,1525.6 77.5,1529.1 70.1,1532.6"/>
</g>
<text class="ax" text-anchor="middle" transform="translate(15 1505.5) rotate(-90)">UMAP2</text>
<text class="ax" x="33.7" y="1549">UMAP1</text>

<!-- ================= SECRETORY ================= -->
<text class="t" x="607.7" y="1229">secretory</text>
<g class="b">
<polygon fill="#00BCD8" stroke="#00BCD8" points="735,1244 740,1245 744,1252 742,1256 737,1255 734,1250"/>
<polygon fill="#00C0AF" stroke="#00C0AF" points="744,1257 752,1268 760,1272 764,1280 760,1283 752,1280 751,1272"/>
<polygon fill="#E58700" stroke="#E58700" points="766,1311 772,1312 780,1318 782,1330 776,1340 774,1360 770,1375 766,1380 762,1370 760,1350 758,1335 760,1320"/>
<polygon fill="#A3A500" stroke="#A3A500" points="698,1335 708,1333 720,1340 728,1350 732,1365 728,1370 723,1360 715,1348 705,1345 696,1345"/>
<ellipse fill="#00BF7D" stroke="#00BF7D" cx="805" cy="1316" rx="2.5" ry="4"/>
<polygon fill="#00BF7D" stroke="#00BF7D" points="817,1337 822,1345 830,1355 832,1365 826,1370 815,1365 808,1362 815,1352"/>
<ellipse fill="#00BA38" stroke="#00BA38" cx="806" cy="1346" rx="2.5" ry="3.5"/>
<polygon fill="#00BA38" stroke="#00BA38" points="788,1360 800,1355 812,1360 815,1370 808,1378 812,1390 816,1402 810,1405 805,1392 800,1378 790,1372 784,1365"/>
<ellipse fill="#FD61D1" stroke="#FD61D1" cx="887" cy="1320" rx="2.5" ry="5"/>
<line x1="886" y1="1326" x2="886" y2="1345" stroke="#C99800" stroke-width="1"/>
<polygon fill="#C99800" stroke="#C99800" points="886,1345 890,1350 892,1362 900,1358 912,1352 922,1355 915,1365 905,1372 895,1378 888,1375 885,1360"/>
<circle fill="#FF67A4" stroke="#FF67A4" cx="658" cy="1386" r="2.5"/>
<polygon fill="#619CFF" stroke="#619CFF" points="708,1410 718,1405 731,1402 728,1410 715,1418 708,1418"/>
<polygon fill="#F8766D" stroke="#F8766D" points="760,1378 768,1378 772,1395 780,1400 800,1402 815,1398 822,1405 818,1413 800,1415 785,1413 772,1410 768,1425 760,1422 750,1418 745,1425 740,1422 735,1412 730,1405 740,1400 755,1398 758,1388"/>
<polygon fill="#E76BF3" stroke="#E76BF3" points="760,1422 764,1422 763,1435 757,1438 755,1432"/>
<polygon fill="#00B0F6" stroke="#00B0F6" points="778,1418 783,1420 785,1440 783,1450 778,1458 775,1456 778,1445 776,1430"/>
<polygon fill="#6BB100" stroke="#6BB100" points="776,1456 782,1460 783,1480 778,1484 765,1487 755,1486 756,1475 765,1465"/>
<polygon fill="#B983FF" stroke="#B983FF" points="834,1480 840,1482 842,1492 838,1498 832,1496 828,1488"/>
</g>
<g class="l">
<text x="715.5" y="1263.4">sec_8</text><text x="756" y="1273.6">sec_7</text><text x="877.3" y="1315">sec_13</text>
<text x="761" y="1333.4">sec_1</text><text x="709.8" y="1340.5">sec_3</text><text x="819" y="1352.8">sec_6</text>
<text x="893.1" y="1354.7">sec_2</text><text x="648.1" y="1381.2">sec_14</text><text x="780.2" y="1382.8">sec_5</text>
<text x="687.9" y="1409">sec_10</text><text x="748.6" y="1418.5">sec_0</text><text x="718.9" y="1434.8">sec_12</text>
<text x="780.6" y="1448.5">sec_9</text><text x="744.2" y="1489.5">sec_4</text><text x="810.9" y="1506.5">sec_11</text>
</g>
<text class="lg" x="958" y="1268.9">clusters</text>
<g class="lg">
<circle cx="966.6" cy="1286.4" r="6" fill="#F8766D"/><text x="983.4" y="1290.9">sec_0</text>
<circle cx="966.6" cy="1304.7" r="6" fill="#E58700"/><text x="983.4" y="1309.2">sec_1</text>
<circle cx="966.6" cy="1323" r="6" fill="#C99800"/><text x="983.4" y="1327.5">sec_2</text>
<circle cx="966.6" cy="1341.3" r="6" fill="#A3A500"/><text x="983.4" y="1345.8">sec_3</text>
<circle cx="966.6" cy="1359.6" r="6" fill="#6BB100"/><text x="983.4" y="1364.1">sec_4</text>
<circle cx="966.6" cy="1377.9" r="6" fill="#00BA38"/><text x="983.4" y="1382.4">sec_5</text>
<circle cx="966.6" cy="1396.2" r="6" fill="#00BF7D"/><text x="983.4" y="1400.7">sec_6</text>
<circle cx="966.6" cy="1414.5" r="6" fill="#00C0AF"/><text x="983.4" y="1419">sec_7</text>
<circle cx="966.6" cy="1432.8" r="6" fill="#00BCD8"/><text x="983.4" y="1437.3">sec_8</text>
<circle cx="966.6" cy="1451.1" r="6" fill="#00B0F6"/><text x="983.4" y="1455.6">sec_9</text>
<circle cx="966.6" cy="1469.4" r="6" fill="#619CFF"/><text x="983.4" y="1473.9">sec_10</text>
<circle cx="966.6" cy="1487.7" r="6" fill="#B983FF"/><text x="983.4" y="1492.2">sec_11</text>
<circle cx="966.6" cy="1506" r="6" fill="#E76BF3"/><text x="983.4" y="1510.5">sec_12</text>
<circle cx="966.6" cy="1524.3" r="6" fill="#FD61D1"/><text x="983.4" y="1528.8">sec_13</text>
<circle cx="966.6" cy="1542.6" r="6" fill="#FF67A4"/><text x="983.4" y="1547.1">sec_14</text>
</g>
<g class="ar">
<line x1="638" y1="1545.7" x2="638" y2="1510"/><polygon points="634.5,1511.7 638,1504.3 641.5,1511.7"/>
<line x1="638" y1="1545.7" x2="668" y2="1545.7"/><polygon points="666,1542.2 673.4,1545.7 666,1549.2"/>
</g>
<text class="ax" text-anchor="middle" transform="translate(628 1524.4) rotate(-90)">UMAP2</text>
<text class="ax" x="636.3" y="1565.5">UMAP1</text>
</svg>
</body></html>
